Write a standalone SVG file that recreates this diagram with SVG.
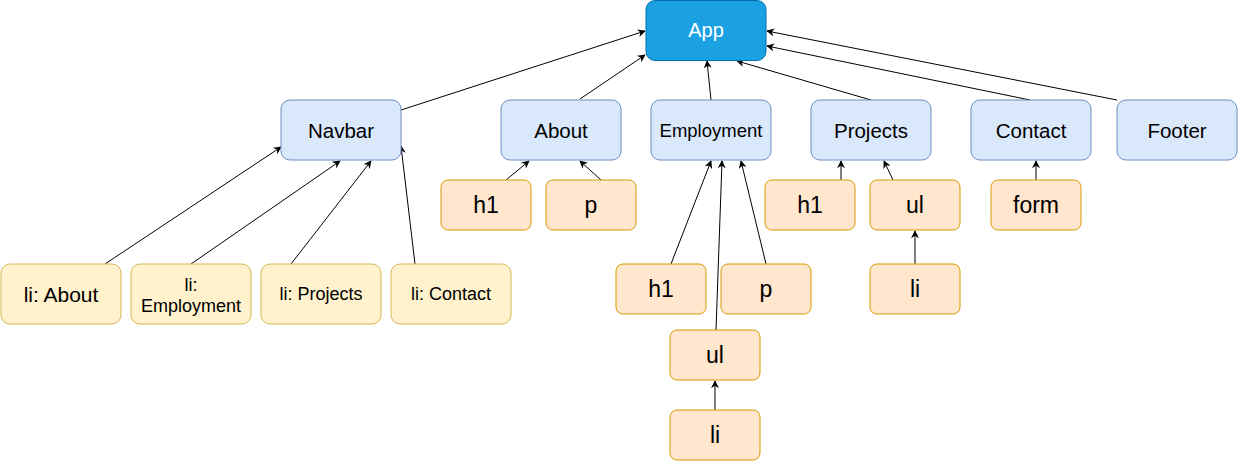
<svg xmlns="http://www.w3.org/2000/svg" width="1238" height="461" viewBox="0 0 1238 461">
<defs>
<marker id="arr" viewBox="0 0 10 10" refX="9" refY="5" markerWidth="8" markerHeight="8" markerUnits="userSpaceOnUse" orient="auto">
<path d="M0,0 L10,5 L0,10 L3,5 Z" fill="#000"/>
</marker>
<style>
.e{fill:none;stroke:#000;stroke-width:1;marker-end:url(#arr)}
.app{fill:#1ba1e2;stroke:#006eaf}
.b{fill:#dae8fc;stroke:#6c8ebf}
.o{fill:#ffe6cc;stroke:#d79b00}
.y{fill:#fff2cc;stroke:#d6b656}
text{font-family:"Liberation Sans",Arial,sans-serif;text-anchor:middle;dominant-baseline:central;fill:#000}
.tb{font-size:20.5px}
.tm{font-size:18px}
.to{font-size:23px}
</style>
</defs>
<rect width="1238" height="461" fill="#fff"/>
<g id="connectors">
<line class="e" x1="401" y1="110" x2="645" y2="31"/>
<line class="e" x1="580" y1="99" x2="645" y2="55"/>
<line class="e" x1="711" y1="100" x2="707" y2="61"/>
<line class="e" x1="871" y1="100" x2="737" y2="61"/>
<line class="e" x1="1030" y1="100" x2="767" y2="46"/>
<line class="e" x1="1117" y1="100" x2="767" y2="31"/>
<line class="e" x1="105" y1="264" x2="281" y2="147"/>
<line class="e" x1="191" y1="264" x2="340" y2="161"/>
<line class="e" x1="291" y1="264" x2="371" y2="161"/>
<line class="e" x1="415" y1="264" x2="401" y2="146"/>
<line class="e" x1="506" y1="180" x2="529" y2="161"/>
<line class="e" x1="601" y1="180" x2="580" y2="161"/>
<line class="e" x1="671" y1="264" x2="711" y2="161"/>
<line class="e" x1="716" y1="330" x2="722" y2="161"/>
<line class="e" x1="766" y1="264" x2="741" y2="161"/>
<line class="e" x1="841" y1="180" x2="841" y2="161"/>
<line class="e" x1="893" y1="180" x2="884" y2="161"/>
<line class="e" x1="1036" y1="180" x2="1036" y2="161"/>
<line class="e" x1="915" y1="264" x2="915" y2="231"/>
<line class="e" x1="715" y1="410" x2="715" y2="381"/>
</g>
<g id="app"><rect class="app" x="646" y="0.5" width="120" height="60" rx="9"/><text x="706" y="30" style="fill:#fff;font-size:20px">App</text></g>
<g id="navbar"><rect class="b" x="281" y="100" width="120" height="60" rx="9"/><text x="341" y="130" class="tb">Navbar</text></g>
<g id="about"><rect class="b" x="501" y="100" width="120" height="60" rx="9"/><text x="561" y="130" class="tb">About</text></g>
<g id="employment"><rect class="b" x="651" y="100" width="120" height="60" rx="9"/><text x="711" y="130" style="font-size:18.5px">Employment</text></g>
<g id="projects"><rect class="b" x="811" y="100" width="120" height="60" rx="9"/><text x="871" y="130" class="tb">Projects</text></g>
<g id="contact"><rect class="b" x="971" y="100" width="120" height="60" rx="9"/><text x="1031" y="130" class="tb">Contact</text></g>
<g id="footer"><rect class="b" x="1117" y="100" width="120" height="60" rx="9"/><text x="1177" y="130" class="tb">Footer</text></g>
<g id="about-h1"><rect class="o" x="441" y="180" width="90" height="50" rx="7"/><text x="486" y="205" class="to">h1</text></g>
<g id="about-p"><rect class="o" x="546" y="180" width="90" height="50" rx="7"/><text x="591" y="205" class="to">p</text></g>
<g id="projects-h1"><rect class="o" x="765" y="180" width="90" height="50" rx="7"/><text x="810" y="205" class="to">h1</text></g>
<g id="projects-ul"><rect class="o" x="870" y="180" width="90" height="50" rx="7"/><text x="915" y="205" class="to">ul</text></g>
<g id="contact-form"><rect class="o" x="991" y="180" width="90" height="50" rx="7"/><text x="1036" y="205" class="to">form</text></g>
<g id="projects-li"><rect class="o" x="870" y="264" width="90" height="50" rx="7"/><text x="915" y="289" class="to">li</text></g>
<g id="employment-h1"><rect class="o" x="616" y="264" width="90" height="50" rx="7"/><text x="661" y="289" class="to">h1</text></g>
<g id="employment-p"><rect class="o" x="721" y="264" width="90" height="50" rx="7"/><text x="766" y="289" class="to">p</text></g>
<g id="employment-ul"><rect class="o" x="670" y="330" width="90" height="50" rx="7"/><text x="715" y="355" class="to">ul</text></g>
<g id="employment-li"><rect class="o" x="670" y="410" width="90" height="50" rx="7"/><text x="715" y="435" class="to">li</text></g>
<g id="li-about"><rect class="y" x="1" y="264" width="120" height="60" rx="9"/><text x="61" y="294" style="font-size:21px">li: About</text></g>
<g id="li-employment"><rect class="y" x="131" y="264" width="120" height="60" rx="9"/><text x="191" y="285" class="tm">li:</text><text x="191" y="306" class="tm">Employment</text></g>
<g id="li-projects"><rect class="y" x="261" y="264" width="120" height="60" rx="9"/><text x="321" y="294" class="tm">li: Projects</text></g>
<g id="li-contact"><rect class="y" x="391" y="264" width="120" height="60" rx="9"/><text x="451" y="294" class="tm">li: Contact</text></g>
</svg>
